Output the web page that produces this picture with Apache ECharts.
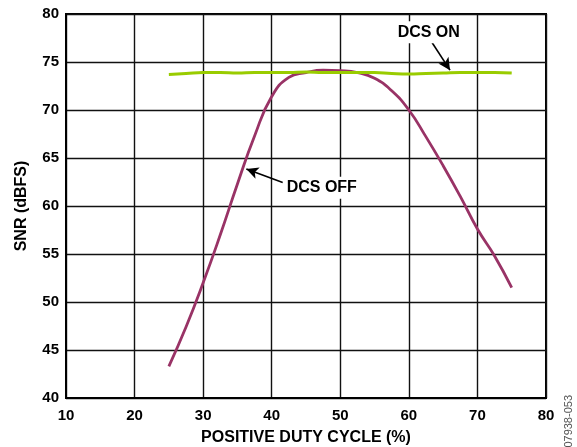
<!DOCTYPE html>
<html><head><meta charset="utf-8">
<script src="https://cdn.jsdelivr.net/npm/echarts@6/dist/echarts.min.js"></script>
<style>html,body{margin:0;padding:0;background:#fff}#c{width:577px;height:447px}</style>
</head><body><div id="c"></div>
<script>
const dutyCycle = [25,27.5,30,32.5,35,37.5,40,42.5,45,47.5,50,52.5,55,57.5,60,62.5,65,67.5,70,72.5,75];
const snrDcsOn  = [73.7,73.8,73.9,73.9,73.85,73.9,73.9,73.9,73.95,73.9,73.9,73.9,73.9,73.8,73.75,73.8,73.85,73.9,73.9,73.9,73.85];
const snrDcsOff = [43.3,47.4,52.0,57.0,62.3,67.3,71.4,73.4,73.9,74.15,74.1,73.9,73.3,72.0,70.0,67.2,64.2,61.0,57.6,54.8,51.5];
const xTicks = [10,20,30,40,50,60,70,80];
const yTicks = [40,45,50,55,60,65,70,75,80];

const font = 'Liberation Sans, Arial, sans-serif';
const chart = echarts.init(document.getElementById('c'), null, {renderer:'canvas'});
const lblStyle = {color:'#000', fontFamily:font, fontWeight:'bold', fontSize:14};
chart.setOption({
  animation:false,
  grid:{left:66, top:14, right:31, bottom:49, show:true, borderColor:'#000', borderWidth:2,
        backgroundColor:'transparent', containLabel:false, outerBoundsMode:'none'},
  xAxis:{type:'value', min:xTicks[0], max:xTicks[xTicks.length-1], interval:10,
    name:'POSITIVE DUTY CYCLE (%)', nameLocation:'middle', nameGap:32,
    nameTextStyle:{...lblStyle, fontSize:16},
    axisLine:{show:true, lineStyle:{color:'#000', width:2}},
    axisTick:{show:false},
    axisLabel:{...lblStyle, fontSize:15, margin:10},
    splitLine:{show:true, lineStyle:{color:'#111', width:1.4}}},
  yAxis:{type:'value', min:yTicks[0], max:yTicks[yTicks.length-1], interval:5,
    name:'SNR (dBFS)', nameLocation:'middle', nameGap:36, nameRotate:90,
    nameTextStyle:{...lblStyle, fontSize:16},
    axisLine:{show:true, lineStyle:{color:'#000', width:2}},
    axisTick:{show:false},
    axisLabel:{...lblStyle, fontSize:15, margin:7},
    splitLine:{show:true, lineStyle:{color:'#111', width:1.4}}},
  series:[
    {name:'DCS OFF', type:'line', smooth:true, symbol:'none', z:3,
     data:dutyCycle.map((x,i)=>[x,snrDcsOff[i]]),
     lineStyle:{color:'#993366', width:2.8},
     markLine:{silent:true, symbol:['none','arrow'], symbolSize:[9,12],
       lineStyle:{color:'#000', width:1.6, type:'solid'}, label:{show:false},
       data:[[{coord:[41.6,62.45]},{coord:[36.3,63.85]}]]},
     markPoint:{silent:true, symbol:'rect', symbolSize:1, itemStyle:{color:'transparent'},
       label:{show:true, formatter:'DCS OFF', ...lblStyle, fontSize:16, backgroundColor:'#fff', padding:[3,2]},
       data:[{coord:[47.3,61.9]}]}
    },
    {name:'DCS ON', type:'line', smooth:true, symbol:'none', z:4,
     data:dutyCycle.map((x,i)=>[x,snrDcsOn[i]]),
     lineStyle:{color:'#99cc00', width:3},
     markLine:{silent:true, symbol:['none','arrow'], symbolSize:[9,12],
       lineStyle:{color:'#000', width:1.6, type:'solid'}, label:{show:false},
       data:[[{coord:[63.4,77.0]},{coord:[66.0,74.15]}]]},
     markPoint:{silent:true, symbol:'rect', symbolSize:1, itemStyle:{color:'transparent'},
       label:{show:true, formatter:'DCS ON', ...lblStyle, fontSize:16, backgroundColor:'#fff', padding:[3,2]},
       data:[{coord:[62.9,78.1]}]}
    }
  ],
  graphic:[{type:'text', left:563, top:395, rotation:Math.PI/2,
    style:{text:'07938-053', fill:'#555', font:'11px '+font}}]
});
</script></body></html>
